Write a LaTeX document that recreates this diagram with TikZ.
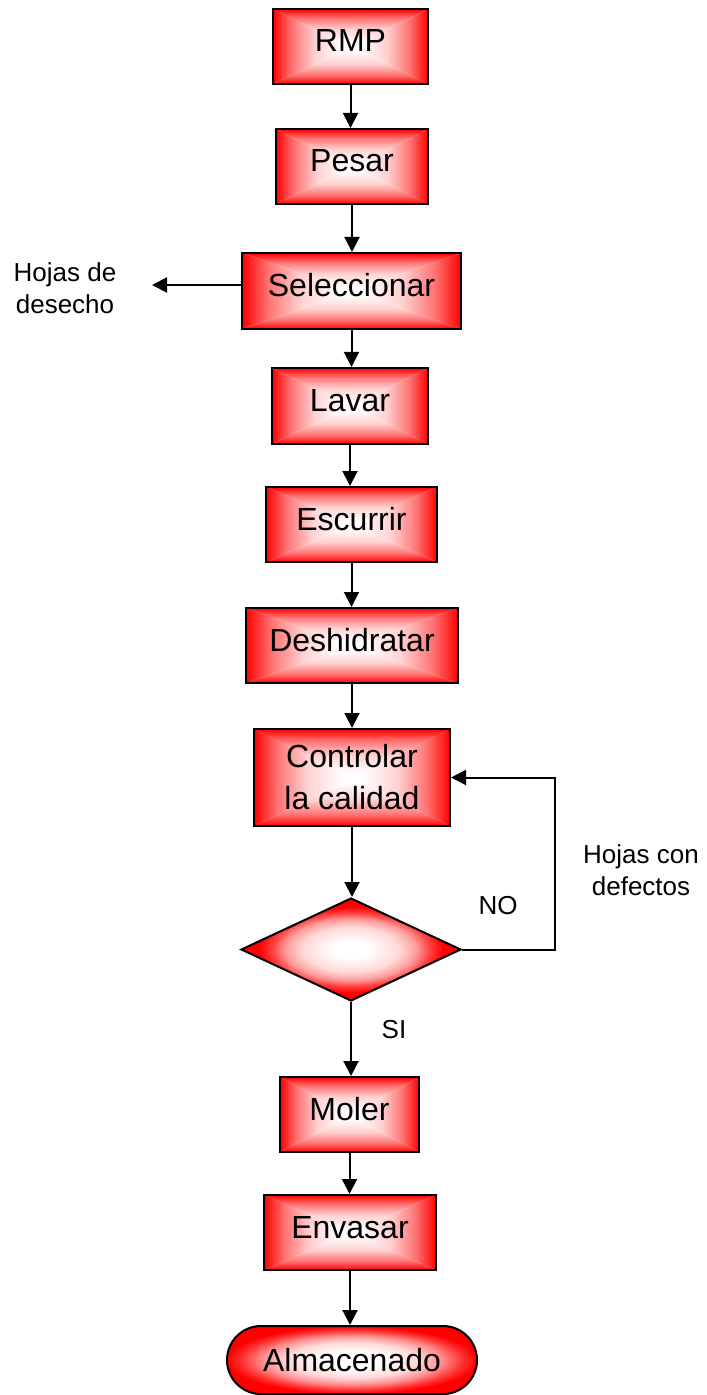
\documentclass[tikz,border=0pt]{standalone}
\usepackage{fontspec}
\setmainfont{Liberation Sans}
\usetikzlibrary{arrows.meta,shapes.geometric}

% edge-to-centre ramps: red at the border, fading quickly to white
\pgfdeclarehorizontalshading{rampL}{100bp}{%
  color(0bp)=(red); color(25bp)=(red); color(37bp)=(red!55!white);
  color(52bp)=(red!18!white); color(70bp)=(white); color(100bp)=(white)}
\pgfdeclarehorizontalshading{rampR}{100bp}{%
  color(0bp)=(white); color(30bp)=(white); color(48bp)=(red!18!white);
  color(63bp)=(red!55!white); color(75bp)=(red); color(100bp)=(red)}
\pgfdeclareverticalshading{rampB}{100bp}{%
  color(0bp)=(red); color(25bp)=(red); color(37bp)=(red!55!white);
  color(52bp)=(red!18!white); color(70bp)=(white); color(100bp)=(white)}
\pgfdeclareverticalshading{rampT}{100bp}{%
  color(0bp)=(white); color(30bp)=(white); color(48bp)=(red!18!white);
  color(63bp)=(red!55!white); color(75bp)=(red); color(100bp)=(red)}

% radial glow for the diamond and the terminal
\pgfdeclareradialshading{glow}{\pgfpoint{0bp}{0bp}}{%
  color(0bp)=(white); color(4bp)=(white); color(11bp)=(red!15!white);
  color(15bp)=(red!40!white); color(18bp)=(red!75!white);
  color(21bp)=(red); color(25bp)=(red); color(50bp)=(red)}
\pgfdeclareradialshading{glowwide}{\pgfpoint{0bp}{0bp}}{%
  color(0bp)=(white); color(6bp)=(white); color(13bp)=(red!15!white);
  color(18bp)=(red!45!white); color(22bp)=(red!80!white);
  color(25bp)=(red); color(50bp)=(red)}

\def\ppbb{path picture bounding box}

\tikzset{
  x=0.5pt, y=-0.5pt,
  % rectangle filled white in the centre, red towards all four edges
  pyrfill/.style={path picture={
    \begin{scope}
      \clip (\ppbb.south west) -- (\ppbb.south east) -- (\ppbb.center) -- cycle;
      \shade[shading=rampB] (\ppbb.south west) rectangle (\ppbb.east);
    \end{scope}
    \begin{scope}
      \clip (\ppbb.north west) -- (\ppbb.north east) -- (\ppbb.center) -- cycle;
      \shade[shading=rampT] (\ppbb.west) rectangle (\ppbb.north east);
    \end{scope}
    \begin{scope}
      \clip (\ppbb.south west) -- (\ppbb.north west) -- (\ppbb.center) -- cycle;
      \shade[shading=rampL] (\ppbb.south west) rectangle (\ppbb.north);
    \end{scope}
    \begin{scope}
      \clip (\ppbb.south east) -- (\ppbb.north east) -- (\ppbb.center) -- cycle;
      \shade[shading=rampR] (\ppbb.south) rectangle (\ppbb.north east);
    \end{scope}
  }},
  stepbox/.style={draw=black, line width=1pt, rectangle, pyrfill,
    inner sep=0pt, minimum height=37.5pt, align=center,
    font=\fontsize{16}{19}\selectfont},
  oneline/.style={text height=11.5pt, text depth=6pt},
  decision/.style={draw=black, line width=1pt, diamond, shading=glow,
    inner sep=0pt},
  terminal/.style={draw=black, line width=1pt, rectangle, rounded corners=17pt,
    shading=glowwide, inner sep=0pt, font=\fontsize{16}{19}\selectfont},
  lbl/.style={align=center, inner sep=0pt, font=\fontsize{13}{16}\selectfont},
  arr/.style={line width=1pt, -{Triangle[length=7.5pt,width=7.5pt]}}
}

\begin{document}
\begin{tikzpicture}
\useasboundingbox (0,0) rectangle (706,1395);

\node[stepbox, oneline, minimum width=77.5pt] (rmp)   at (350.5,46.5)  {RMP};
\node[stepbox, oneline, minimum width=76pt]   (pesar) at (352,166.5)   {Pesar};
\node[stepbox, oneline, minimum width=109.5pt,minimum height=38pt] (sel) at (351.5,291) {Seleccionar};
\node[stepbox, oneline, minimum width=78pt, minimum height=38pt]   (lavar) at (350,406) {Lavar};
\node[stepbox, oneline, minimum width=85.5pt] (esc)   at (351.5,524.5) {Escurrir};
\node[stepbox, oneline, minimum width=106pt]  (desh)  at (352,645.5)   {Deshidratar};
\node[stepbox, minimum width=98pt, minimum height=48.5pt, text depth=1pt] (ctrl) at (352,777.5) {Controlar\\[2pt]la calidad};
\node[decision, minimum width=110pt, minimum height=51.5pt] (dia) at (351,949.5) {};
\node[stepbox, oneline, minimum width=69.5pt] (moler) at (349.5,1114.5) {Moler};
\node[stepbox, oneline, minimum width=86pt]   (env)   at (350,1232.5)  {Envasar};
\node[terminal, minimum width=125pt, minimum height=34pt] (alm) at (352,1360) {Almacenado};

% main flow
\draw[arr] (rmp.south)   -- (rmp.south |- pesar.north);
\draw[arr] (pesar.south) -- (pesar.south |- sel.north);
\draw[arr] (sel.south)   -- (sel.south |- lavar.north);
\draw[arr] (lavar.south) -- (lavar.south |- esc.north);
\draw[arr] (esc.south)   -- (esc.south |- desh.north);
\draw[arr] (desh.south)  -- (desh.south |- ctrl.north);
\draw[arr] (ctrl.south)  -- (ctrl.south |- dia.north);
\draw[arr] (dia.south)   -- (dia.south |- moler.north);
\draw[arr] (moler.south) -- (moler.south |- env.north);
\draw[arr] (env.south)   -- (env.south |- alm.north);

% discarded leaves
\coordinate (waste) at (152,285);
\draw[arr] (sel.west |- waste) -- (waste);
\node[lbl] (wastelbl) at (65,288) {Hojas de\\desecho};

% rejected leaves go back to quality control
\coordinate (loopx) at (555,0);
\draw[arr] (dia.east) -- (dia.east -| loopx) |- (ctrl.east);
\node[lbl] (nolbl) at (498,906) {NO};
\node[lbl] (silbl) at (394,1030) {SI};
\node[lbl] (deflbl) at (641,870) {Hojas con\\defectos};
\end{tikzpicture}
\end{document}
